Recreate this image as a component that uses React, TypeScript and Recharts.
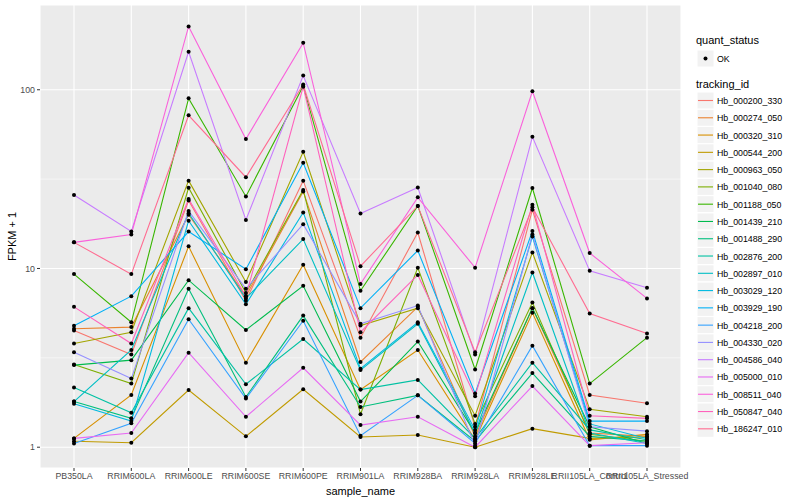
import React from "react";
import {
  LineChart,
  Line,
  XAxis,
  YAxis,
  CartesianGrid,
  ReferenceLine,
} from "recharts";

const samples = [
  "PB350LA",
  "RRIM600LA",
  "RRIM600LE",
  "RRIM600SE",
  "RRIM600PE",
  "RRIM901LA",
  "RRIM928BA",
  "RRIM928LA",
  "RRIM928LE",
  "RRII105LA_Control",
  "RRII105LA_Stressed",
];

const trackingIds = [
  "Hb_000200_330",
  "Hb_000274_050",
  "Hb_000320_310",
  "Hb_000544_200",
  "Hb_000963_050",
  "Hb_001040_080",
  "Hb_001188_050",
  "Hb_001439_210",
  "Hb_001488_290",
  "Hb_002876_200",
  "Hb_002897_010",
  "Hb_003029_120",
  "Hb_003929_190",
  "Hb_004218_200",
  "Hb_004330_020",
  "Hb_004586_040",
  "Hb_005000_010",
  "Hb_008511_040",
  "Hb_050847_040",
  "Hb_186247_010",
];

// ggplot default hue palette for 20 levels
const colors = [
  "#F8766D", "#EA8331", "#D89000", "#C09B00", "#A3A500",
  "#7CAE00", "#39B600", "#00BB4E", "#00BF7D", "#00C1A3",
  "#00BFC4", "#00BAE0", "#00B0F6", "#35A2FF", "#9590FF",
  "#C77CFF", "#E76BF3", "#FA62DB", "#FF62BC", "#FF6C91",
];

// FPKM + 1, one array per tracking_id, in sample order
const hb000200_330 = [4.5, 3.3, 24, 6.6, 31, 4.1, 15.9, 1.3, 21.3, 1.96, 1.76];
const hb000274_050 = [4.6, 4.7, 20, 7.0, 27, 3.0, 6.1, 1.15, 6.0, 1.2, 1.15];
const hb000320_310 = [1.12, 1.96, 13.3, 2.97, 10.5, 2.1, 3.5, 1.1, 5.65, 1.1, 1.18];
const hb000544_200 = [1.08, 1.06, 2.09, 1.15, 2.11, 1.14, 1.17, 1.0, 1.27, 1.12, 1.14];
const hb000963_050 = [3.8, 4.4, 31, 8.4, 45, 4.8, 6.0, 1.5, 12.3, 1.63, 1.48];
const hb001040_080 = [2.9, 2.27, 28.3, 7.3, 27.5, 1.53, 10.1, 1.35, 6.45, 1.18, 1.08];
const hb001188_050 = [9.3, 5.0, 89.5, 25.3, 105, 7.5, 22.4, 2.72, 28.2, 2.27, 4.1];
const hb001439_210 = [2.88, 3.07, 8.6, 4.53, 8.0, 1.8, 3.9, 1.2, 6.0, 1.3, 1.05];
const hb001488_290 = [1.8, 1.45, 7.7, 1.91, 5.45, 1.68, 1.95, 1.08, 2.6, 1.15, 1.08];
const hb002876_200 = [2.16, 1.56, 6.0, 2.25, 4.03, 2.1, 2.38, 1.12, 2.97, 1.25, 1.1];
const hb002897_010 = [1.8, 3.5, 20.4, 6.8, 14.6, 2.7, 4.9, 1.2, 9.5, 1.2, 1.05];
const hb003029_120 = [1.75, 1.4, 18.5, 6.3, 20.6, 2.75, 5.0, 1.25, 15.1, 1.35, 1.12];
const hb003929_190 = [4.78, 7.0, 16.1, 9.9, 39, 6.0, 12.6, 2.0, 16.2, 1.4, 1.4];
const hb004218_200 = [1.05, 1.36, 5.2, 1.87, 5.1, 1.16, 1.95, 1.05, 3.7, 1.02, 1.02];
const hb004330_020 = [3.4, 2.42, 21, 7.7, 17.7, 4.9, 6.2, 1.02, 15.5, 1.3, 1.23];
const hb004586_040 = [25.8, 16.1, 163, 18.7, 120, 20.3, 28.4, 3.3, 54.5, 9.7, 7.8];
const hb005000_010 = [1.12, 1.2, 3.38, 1.48, 2.78, 1.33, 1.48, 1.0, 2.2, 1.02, 1.06];
const hb008511_040 = [14.0, 15.5, 226, 53, 183, 8.2, 25, 10.1, 98, 12.2, 6.8];
const hb050847_040 = [6.1, 3.8, 24.5, 7.0, 104, 4.4, 9.2, 1.93, 22.7, 1.5, 1.45];
const hb186247_010 = [14.0, 9.3, 72, 32.4, 107, 10.3, 22.4, 3.4, 22, 5.6, 4.33];

const seriesValues = [
  hb000200_330, hb000274_050, hb000320_310, hb000544_200, hb000963_050,
  hb001040_080, hb001188_050, hb001439_210, hb001488_290, hb002876_200,
  hb002897_010, hb003029_120, hb003929_190, hb004218_200, hb004330_020,
  hb004586_040, hb005000_010, hb008511_040, hb050847_040, hb186247_010,
];

const yTicks = [1, 10, 100];
const minorTicks = [3.162, 31.62];

const data = samples.map((s, i) => {
  const row: Record<string, string | number> = { sample_name: s };
  trackingIds.forEach((id, k) => {
    row[id] = seriesValues[k][i];
  });
  return row;
});

const FONT = "'Liberation Sans', Arial, sans-serif";

function LegendPanel() {
  return (
    <svg
      width={110}
      height={440}
      style={{ position: "absolute", left: 690, top: 30, fontFamily: FONT }}
    >
      <text x={6} y={14} fontSize={11} fill="#000">quant_status</text>
      <rect x={7} y={20} width={17} height={17} fill="#F2F2F2" stroke="#fff" />
      <circle cx={15.5} cy={28.5} r={2} fill="#000" />
      <text x={27} y={32} fontSize={8.8} fill="#000">OK</text>
      <text x={6} y={58} fontSize={11} fill="#000">tracking_id</text>
      {trackingIds.map((id, k) => {
        const y = 62 + k * 17.28;
        return (
          <g key={id}>
            <rect x={7} y={y} width={17} height={17} fill="#F2F2F2" stroke="#fff" />
            <line x1={8} x2={23} y1={y + 8.5} y2={y + 8.5} stroke={colors[k]} strokeWidth={1.1} />
            <text x={27} y={y + 12} fontSize={8.8} fill="#000">{id}</text>
          </g>
        );
      })}
    </svg>
  );
}

export default function App() {
  return (
    <div
      style={{
        position: "absolute",
        left: 0,
        top: 0,
        width: 800,
        height: 500,
        background: "#fff",
        fontFamily: FONT,
      }}
    >
      <LineChart
        width={800}
        height={500}
        data={data}
        margin={{ top: 5, right: 119, bottom: 0, left: 0 }}
      >
        <CartesianGrid stroke="#fff" strokeWidth={1.1} fill="#EBEBEB" />
        {minorTicks.map((v) => (
          <ReferenceLine key={v} y={v} stroke="#fff" strokeWidth={0.55} />
        ))}
        <XAxis
          dataKey="sample_name"
          interval={0}
          padding={{ left: 34, right: 34 }}
          height={32}
          axisLine={false}
          tickSize={3}
          tickLine={{ stroke: "#333" }}
          tick={{ fontSize: 8.8, fill: "#4D4D4D", fontFamily: FONT }}
          label={{
            value: "sample_name",
            position: "insideBottom",
            offset: 5,
            style: { fontSize: 11, fill: "#000", fontFamily: FONT },
          }}
        />
        <YAxis
          type="number"
          scale="log"
          domain={[0.765, 298]}
          allowDataOverflow
          ticks={yTicks}
          width={40}
          axisLine={false}
          tickSize={3}
          tickLine={{ stroke: "#333" }}
          tick={{ fontSize: 8.8, fill: "#4D4D4D", fontFamily: FONT }}
          label={{
            value: "FPKM + 1",
            angle: -90,
            position: "insideLeft",
            offset: 12,
            style: { fontSize: 11, fill: "#000", textAnchor: "middle", fontFamily: FONT },
          }}
        />
        {trackingIds.map((id, k) => (
          <Line
            key={id}
            type="linear"
            dataKey={id}
            stroke={colors[k]}
            strokeWidth={1.1}
            dot={false}
            activeDot={false}
            isAnimationActive={false}
          />
        ))}
        {trackingIds.map((id) => (
          <Line
            key={id + "_pt"}
            type="linear"
            dataKey={id}
            stroke="none"
            dot={{ r: 2, fill: "#000", stroke: "none" }}
            activeDot={false}
            legendType="none"
            isAnimationActive={false}
          />
        ))}
      </LineChart>
      <LegendPanel />
    </div>
  );
}
